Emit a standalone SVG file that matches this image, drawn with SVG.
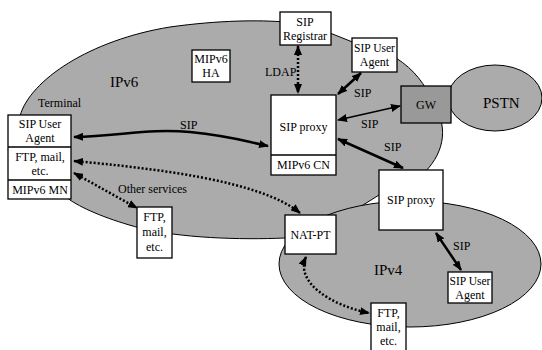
<svg xmlns="http://www.w3.org/2000/svg" width="542" height="350" viewBox="0 0 542 350" font-family="'Liberation Serif', 'Times New Roman', Times, 'DejaVu Serif', serif">
<defs>
<style>
text{font-family:'Liberation Serif','Times New Roman',Times,'DejaVu Serif',serif;font-size:12px;fill:#000}
.c{text-anchor:middle}
.big{font-size:15px}
.area{fill:#ababab;stroke:#000;stroke-width:1}
.box{fill:#fff;stroke:#000;stroke-width:1.3}
.gw{fill:#999;stroke:#000;stroke-width:1.3}
.sip{fill:none;stroke:#000;stroke-width:2.5}
.thin{fill:none;stroke:#000;stroke-width:1.5}
.dot{fill:none;stroke:#000;stroke-width:2.5;stroke-dasharray:2 2}
</style>
<marker id="ah" viewBox="0 0 10 8" refX="9" refY="4" markerWidth="10" markerHeight="8" markerUnits="userSpaceOnUse" orient="auto-start-reverse">
<path d="M0,0 L10,4 L0,8 Z" fill="#000"/>
</marker>
</defs>
<rect width="542" height="350" fill="#fff"/>

<g id="areas">
<path id="ipv6" class="area" d="M20,116 C30,80 90,40 170,27 C220,20 260,20 285,22 L330,33 L355,43 L396,58 C415,70 425,85 432,100 C448,125 446,150 425,172 L379,195 L336,222 L285,238 C240,240 180,238 140,228 C110,220 85,210 70,200 L8,150 Z"/>
<ellipse id="ipv4" class="area" cx="410" cy="264" rx="131" ry="63"/>
<ellipse id="pstn" class="area" cx="495" cy="98" rx="47" ry="33"/>
<text class="big" x="110" y="87">IPv6</text>
<text class="big" x="374" y="275">IPv4</text>
<text class="big" x="483" y="108">PSTN</text>
<text x="38" y="107">Terminal</text>
</g>

<g id="connectors">
<path class="sip" d="M74,137 C120,136 150,128 190,132 S240,140 268,146" marker-start="url(#ah)" marker-end="url(#ah)"/>
<text x="180" y="129">SIP</text>
<path class="dot" d="M74,161 C150,168 260,180 300,213" marker-start="url(#ah)" marker-end="url(#ah)"/>
<path class="dot" d="M74,173 L137,208" marker-start="url(#ah)" marker-end="url(#ah)"/>
<text x="118" y="193">Other services</text>
<path class="dot" d="M298,46 L298,93" marker-start="url(#ah)" marker-end="url(#ah)"/>
<text x="265" y="76">LDAP</text>
<path class="sip" d="M338,94 L361,73" marker-start="url(#ah)" marker-end="url(#ah)"/>
<text x="354" y="97">SIP</text>
<path class="thin" d="M338,120 L400,106" marker-start="url(#ah)" marker-end="url(#ah)"/>
<text x="361" y="128">SIP</text>
<path class="sip" d="M338,139 L403,168" marker-start="url(#ah)" marker-end="url(#ah)"/>
<text x="384" y="151">SIP</text>
<path class="sip" d="M436,233 L461,270" marker-start="url(#ah)" marker-end="url(#ah)"/>
<text x="453" y="250">SIP</text>
<path class="dot" d="M306,257 C295,282 330,305 369,313" marker-start="url(#ah)" marker-end="url(#ah)"/>
</g>

<g id="terminal">
<rect class="box" x="8" y="115" width="63" height="84"/>
<line x1="8" y1="147" x2="71" y2="147" stroke="#000" stroke-width="1.3"/>
<line x1="8" y1="180" x2="71" y2="180" stroke="#000" stroke-width="1.3"/>
<text class="c" x="40" y="128">SIP User</text>
<text class="c" x="40" y="142">Agent</text>
<text class="c" x="40" y="161">FTP, mail,</text>
<text class="c" x="40" y="175">etc.</text>
<text class="c" x="40" y="194">MIPv6 MN</text>
</g>

<g id="mipv6-ha">
<rect class="box" x="192" y="50" width="38" height="32"/>
<text class="c" x="211" y="63">MIPv6</text>
<text class="c" x="211" y="77">HA</text>
</g>

<g id="sip-registrar">
<rect class="box" x="280" y="12" width="51" height="33"/>
<text class="c" x="305" y="26">SIP</text>
<text class="c" x="305" y="40">Registrar</text>
</g>

<g id="sip-ua-top">
<rect class="box" x="352" y="38" width="45" height="34"/>
<text class="c" x="374.5" y="52" style="font-size:11.5px">SIP User</text>
<text class="c" x="374.5" y="66">Agent</text>
</g>

<g id="sip-proxy-cn">
<rect class="box" x="271" y="95" width="65" height="80"/>
<line x1="271" y1="155" x2="336" y2="155" stroke="#000" stroke-width="1.3"/>
<text class="c" x="303.5" y="131">SIP proxy</text>
<text class="c" x="303.5" y="169">MIPv6 CN</text>
</g>

<g id="gw">
<rect class="gw" x="401" y="86" width="50" height="37"/>
<text class="c" x="426" y="109">GW</text>
</g>

<g id="ftp-left">
<rect class="box" x="137" y="207" width="35" height="51"/>
<text class="c" x="154.5" y="221">FTP,</text>
<text class="c" x="154.5" y="236">mail,</text>
<text class="c" x="154.5" y="251">etc.</text>
</g>

<g id="nat-pt">
<rect class="box" x="285" y="215" width="51" height="39"/>
<text class="c" x="310.5" y="239">NAT-PT</text>
</g>

<g id="sip-proxy-v4">
<rect class="box" x="379" y="170" width="64" height="60"/>
<text class="c" x="411" y="204">SIP proxy</text>
</g>

<g id="sip-ua-v4">
<rect class="box" x="448" y="272" width="44" height="31"/>
<text class="c" x="470" y="285" style="font-size:11.5px">SIP User</text>
<text class="c" x="470" y="299">Agent</text>
</g>

<g id="ftp-bottom">
<rect class="box" x="371" y="303" width="35" height="48"/>
<text class="c" x="388.5" y="317">FTP,</text>
<text class="c" x="388.5" y="331">mail,</text>
<text class="c" x="388.5" y="345">etc.</text>
</g>
</svg>
